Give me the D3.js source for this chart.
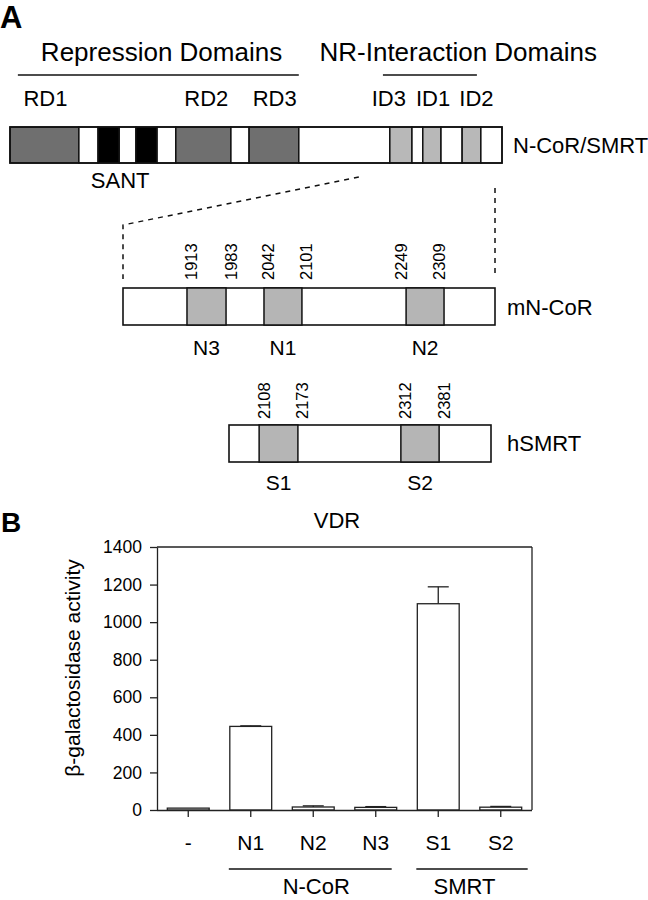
<!DOCTYPE html>
<html>
<head>
<meta charset="utf-8">
<script src="https://cdn.jsdelivr.net/npm/d3@7"></script>
<style>
  body { margin: 0; background: #fff; }
  svg { display: block; font-family: "Liberation Sans", Arial, Helvetica, sans-serif; }
</style>
</head>
<body>
<script>
// ---------- Panel A data (schematic positions in % of each construct) ----------
const mainBoundaries = [0, 14.0, 17.9, 22.2, 25.6, 29.9, 33.7, 44.9, 48.6, 58.7, 77.2, 81.7, 83.9, 87.6, 91.9, 95.7, 100];
const mainSegmentTypes = ["repression","gap","sant","gap","sant","gap","repression","gap","repression","gap","interaction","gap","interaction","gap","interaction","gap"];
const domainLabels = ["RD1", "RD2", "RD3", "ID3", "ID1", "ID2"];
const domainLabelPos = [7.2, 39.9, 53.8, 77.0, 86.0, 94.8];
const headerTitles = ["Repression Domains", "NR-Interaction Domains"];
const headerFrom = [1.6, 75.8];
const headerTo = [58.7, 94.9];
const headerCenter = [30.8, 91.1];
const santLabelPos = 22.4;

const mncorRegions = ["N3", "N1", "N2"];
const mncorStart = [17.2, 37.9, 76.1];
const mncorEnd = [27.7, 48.1, 86.3];
const mncorResidues = [[1913, 1983], [2042, 2101], [2249, 2309]];
const mncorLabelSide = [1, 1, -1];

const smrtRegions = ["S1", "S2"];
const smrtStart = [11.5, 65.6];
const smrtEnd = [26.3, 80.2];
const smrtResidues = [[2108, 2173], [2312, 2381]];
const smrtLabelSide = [1, 1];

// ---------- Panel B data ----------
const categories = ["-", "N1", "N2", "N3", "S1", "S2"];
const values = [10, 445, 16, 14, 1098, 15];
const errors = [0, 3, 6, 4, 90, 4];
const yTicks = [0, 200, 400, 600, 800, 1000, 1200, 1400];
const groupNames = ["N-CoR", "SMRT"];
const groupFirst = ["N1", "S1"];
const groupLast = ["N3", "S2"];

// ---------- styles ----------
const fills = { repression: "#6f6f6f", gap: "#ffffff", sant: "#000000", interaction: "#b8b8b8" };
const regionFill = "#b5b5b5";
const ink = "#111";

const svg = d3.select("body").append("svg").attr("width", 648).attr("height", 900);

// ===== Panel A =====
svg.append("text").attr("x", 0).attr("y", 28).attr("font-size", 31).attr("font-weight", "bold").text("A");

const mx = d3.scaleLinear().domain([0, 100]).range([10, 502]);
const barTop = 127, barH = 36;

// headers
headerTitles.forEach((t, i) => {
  svg.append("text").attr("x", mx(headerCenter[i])).attr("y", 61).attr("text-anchor", "middle")
    .attr("font-size", 26).text(t);
  svg.append("line").attr("x1", mx(headerFrom[i])).attr("x2", mx(headerTo[i]))
    .attr("y1", 75).attr("y2", 75).attr("stroke", ink).attr("stroke-width", 1.6);
});
domainLabels.forEach((t, i) => {
  svg.append("text").attr("x", mx(domainLabelPos[i])).attr("y", 106).attr("text-anchor", "middle")
    .attr("font-size", 22).text(t);
});

// main bar segments
const segs = mainSegmentTypes.map((t, i) => ({ type: t, a: mainBoundaries[i], b: mainBoundaries[i + 1] }));
svg.append("g").selectAll("rect").data(segs).join("rect")
  .attr("x", d => mx(d.a)).attr("width", d => mx(d.b) - mx(d.a))
  .attr("y", barTop).attr("height", barH)
  .attr("fill", d => fills[d.type]).attr("stroke", ink).attr("stroke-width", 1.5);
svg.append("rect").attr("x", mx(0)).attr("y", barTop).attr("width", mx(100) - mx(0)).attr("height", barH)
  .attr("fill", "none").attr("stroke", ink).attr("stroke-width", 1.6);
svg.append("text").attr("x", 513).attr("y", 153).attr("font-size", 22).text("N-CoR/SMRT");
svg.append("text").attr("x", mx(santLabelPos)).attr("y", 188).attr("text-anchor", "middle").attr("font-size", 22).text("SANT");

// constructs
const nx = d3.scaleLinear().domain([0, 100]).range([123, 495]);
const sx = d3.scaleLinear().domain([0, 100]).range([229, 491]);

// zoom dashed lines
svg.append("path")
  .attr("d", `M${mx(70.9)},177 L${nx(0)},225 L${nx(0)},279`)
  .attr("fill", "none").attr("stroke", ink).attr("stroke-width", 1.5).attr("stroke-dasharray", "5,5");
svg.append("path")
  .attr("d", `M${nx(100)},188 L${nx(100)},277`)
  .attr("fill", "none").attr("stroke", ink).attr("stroke-width", 1.5).attr("stroke-dasharray", "5,5");

function drawConstruct(scale, top, h, names, starts, ends, residues, sides, label, labelY, nameY, numBottom) {
  const g = svg.append("g");
  g.append("rect").attr("x", scale(0)).attr("y", top).attr("width", scale(100) - scale(0)).attr("height", h)
    .attr("fill", "#fff").attr("stroke", ink).attr("stroke-width", 1.6);
  names.forEach((n, i) => {
    g.append("rect").attr("x", scale(starts[i])).attr("y", top).attr("width", scale(ends[i]) - scale(starts[i])).attr("height", h)
      .attr("fill", regionFill).attr("stroke", ink).attr("stroke-width", 1.5);
    g.append("text").attr("x", (scale(starts[i]) + scale(ends[i])) / 2).attr("y", nameY)
      .attr("text-anchor", "middle").attr("font-size", 21).text(n);
    [starts[i], ends[i]].forEach((p, j) => {
      const bx = scale(p) + (sides[i] > 0 ? 10.5 : 1);
      g.append("text").attr("transform", `translate(${bx},${numBottom}) rotate(-90)`)
        .attr("font-size", 16.5).text(residues[i][j]);
    });
  });
  g.append("text").attr("x", 507).attr("y", labelY).attr("font-size", 22).text(label);
}
drawConstruct(nx, 288, 37, mncorRegions, mncorStart, mncorEnd, mncorResidues, mncorLabelSide, "mN-CoR", 315, 355, 280);
drawConstruct(sx, 425, 37, smrtRegions, smrtStart, smrtEnd, smrtResidues, smrtLabelSide, "hSMRT", 451, 490, 419);

// ===== Panel B =====
svg.append("text").attr("x", 1).attr("y", 532).attr("font-size", 28).attr("font-weight", "bold").text("B");

const y = d3.scaleLinear().domain([0, 1400]).range([810, 547]);
const x = d3.scaleBand().domain(categories).range([157, 532]).paddingInner(0.33).paddingOuter(0.165);

svg.append("text").attr("x", 337).attr("y", 528).attr("text-anchor", "middle").attr("font-size", 22).text("VDR");

// frame (top, right)
svg.append("line").attr("x1", 157).attr("x2", 532).attr("y1", y(1400)).attr("y2", y(1400)).attr("stroke", "#222").attr("stroke-width", 1.3);
svg.append("line").attr("x1", 532).attr("x2", 532).attr("y1", y(1400)).attr("y2", y(0)).attr("stroke", "#222").attr("stroke-width", 1.3);

// bars
const bars = categories.map((c, i) => ({ c, v: values[i], e: errors[i] }));
const gb = svg.append("g");
gb.selectAll("line.err").data(bars.filter(d => d.e > 0)).join("line").attr("class", "err")
  .attr("x1", d => x(d.c) + x.bandwidth() / 2).attr("x2", d => x(d.c) + x.bandwidth() / 2)
  .attr("y1", d => y(d.v)).attr("y2", d => y(d.v + d.e)).attr("stroke", "#222").attr("stroke-width", 1.3);
gb.selectAll("line.cap").data(bars.filter(d => d.e > 0)).join("line").attr("class", "cap")
  .attr("x1", d => x(d.c) + x.bandwidth() / 2 - 10.5).attr("x2", d => x(d.c) + x.bandwidth() / 2 + 10.5)
  .attr("y1", d => y(d.v + d.e)).attr("y2", d => y(d.v + d.e)).attr("stroke", "#222").attr("stroke-width", 1.3);
gb.selectAll("rect").data(bars).join("rect")
  .attr("x", d => x(d.c)).attr("width", x.bandwidth())
  .attr("y", d => y(d.v)).attr("height", d => y(0) - y(d.v))
  .attr("fill", "#fff").attr("stroke", "#222").attr("stroke-width", 1.3);

// axes
const ay = svg.append("g").attr("transform", "translate(157,0)")
  .call(d3.axisLeft(y).tickValues(yTicks).tickFormat(d3.format("d")).tickSize(7).tickSizeOuter(0).tickPadding(8));
ay.selectAll("text").attr("font-size", 17.5).attr("fill", "#000").attr("font-family", null);
ay.selectAll("line,path").attr("stroke", "#222").attr("stroke-width", 1.3);

const ax = svg.append("g").attr("transform", `translate(0,${y(0)})`)
  .call(d3.axisBottom(x).tickSize(7).tickSizeOuter(0).tickPadding(18));
ax.selectAll("text").attr("font-size", 21).attr("fill", "#000").attr("font-family", null);
ax.selectAll("line,path").attr("stroke", "#222").attr("stroke-width", 1.3);
ax.select("path.domain").attr("d", "M157,0.5H532");

svg.append("text").attr("transform", "translate(80,668) rotate(-90)").attr("text-anchor", "middle")
  .attr("font-size", 21).text("β-galactosidase activity");

// group lines
groupNames.forEach((n, i) => {
  const a = x(groupFirst[i]) - 1, b = x(groupLast[i]) + x.bandwidth() + (i === 0 ? -5 : 6);
  svg.append("line").attr("x1", a).attr("x2", b).attr("y1", 869).attr("y2", 869).attr("stroke", ink).attr("stroke-width", 1.5);
  const cx = (x(groupFirst[i]) + x(groupLast[i]) + x.bandwidth()) / 2;
  svg.append("text").attr("x", cx + (i === 0 ? 3 : -5)).attr("y", 894).attr("text-anchor", "middle").attr("font-size", 22).text(n);
});
</script>
</body>
</html>
